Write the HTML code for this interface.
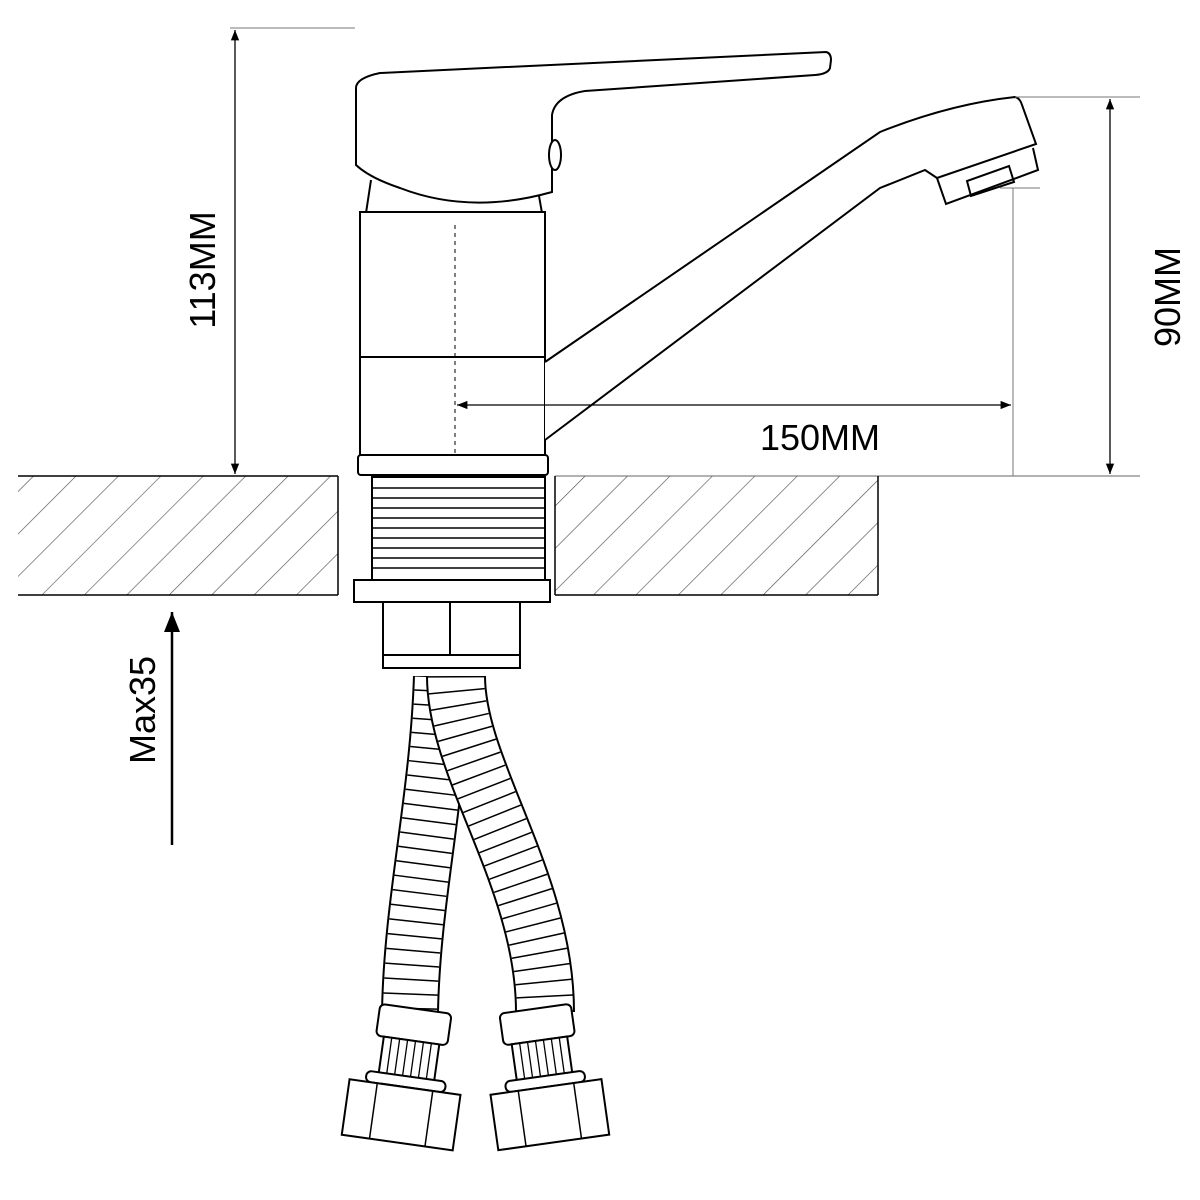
<!DOCTYPE html>
<html><head><meta charset="utf-8"><style>
html,body{margin:0;padding:0;background:#fff;}
svg{display:block;}
text{font-family:"Liberation Sans",sans-serif;}
</style></head><body>
<svg width="1200" height="1200" viewBox="0 0 1200 1200" xmlns="http://www.w3.org/2000/svg">
<defs>
<pattern id="hatch" patternUnits="userSpaceOnUse" width="30" height="30" patternTransform="rotate(45)">
<line x1="0" y1="0" x2="0" y2="30" stroke="#555" stroke-width="1.3"/>
</pattern>
<marker id="ar" viewBox="0 0 10 10" refX="10" refY="5" markerWidth="8" markerHeight="8" orient="auto-start-reverse">
<path d="M0,1 L10,5 L0,9 z" fill="#000"/>
</marker>
</defs>
<g fill="none" stroke="#000" stroke-width="2">
<!-- countertop -->
<rect x="18" y="476" width="320" height="119" fill="url(#hatch)" stroke="none"/>
<rect x="555" y="476" width="323" height="119" fill="url(#hatch)" stroke="none"/>
<line x1="18" y1="476" x2="338" y2="476" stroke-width="1.5"/>
<line x1="555" y1="476" x2="1140" y2="476" stroke-width="1" stroke="#666"/>
<line x1="18" y1="595" x2="338" y2="595" stroke-width="1.5"/>
<line x1="555" y1="595" x2="878" y2="595" stroke-width="1.5"/>
<line x1="338" y1="476" x2="338" y2="595" stroke-width="1.5"/>
<line x1="555" y1="476" x2="555" y2="595" stroke-width="1.5"/>
<line x1="878" y1="476" x2="878" y2="595" stroke-width="1.5"/>

<!-- body -->
<path d="M371,180 L366,213 M539,196 L542,213"/>
<rect x="360" y="212" width="185" height="243" fill="#fff"/>
<line x1="360" y1="357" x2="545" y2="357"/>
<line x1="455" y1="225" x2="455" y2="455" stroke-dasharray="4 4" stroke-width="1"/>
<rect x="358" y="455" width="190" height="20" rx="3" fill="#fff"/>

<!-- handle -->
<path d="M356,88 Q356,78 380,73 L826,52 Q831,53 831,60 L830,68 Q828,74 815,75 L585,91 Q555,96 552,115 L552,192 Q470,215 400,188 Q370,178 356,165 Z" fill="#fff"/>
<ellipse cx="555" cy="155" rx="6" ry="15" fill="#fff"/>

<!-- spout -->
<path d="M545,362 L880,132 Q950,104 1015,97 Q1020,98 1022,105 L1036,144 L937,178 L925,170 L880,188 L545,440" fill="#fff"/>
<path d="M937,178 L946,204 L1038,170 L1033,148"/>
<path d="M967,181 L971,196 L1014,182 L1009,166 Z"/>

<!-- threads -->
<rect x="372" y="477" width="173" height="103" fill="#fff"/>
<g stroke-width="1.5">
<line x1="372" y1="488" x2="545" y2="488"/><line x1="372" y1="498" x2="545" y2="498"/>
<line x1="372" y1="508" x2="545" y2="508"/><line x1="372" y1="518" x2="545" y2="518"/>
<line x1="372" y1="528" x2="545" y2="528"/><line x1="372" y1="538" x2="545" y2="538"/>
<line x1="372" y1="548" x2="545" y2="548"/><line x1="372" y1="558" x2="545" y2="558"/>
<line x1="372" y1="568" x2="545" y2="568"/>
</g>
<rect x="354" y="580" width="196" height="22" fill="#fff"/>
<rect x="383" y="602" width="137" height="66" fill="#fff"/>
<line x1="450" y1="602" x2="450" y2="655"/>
<line x1="383" y1="655" x2="520" y2="655"/>
</g>

<!-- hoses -->
<g fill="none">
<path d="M442,676 C438,800 412,900 410,1012" stroke="#000" stroke-width="58"/>
<path d="M442,676 C438,800 412,900 410,1012" stroke="#fff" stroke-width="54"/>
<path d="M442,676 C438,800 412,900 410,1012" stroke="#000" stroke-width="54" stroke-dasharray="1.5 13"/>
<path d="M456,676 C456,770 545,880 545,1012" stroke="#000" stroke-width="60"/>
<path d="M456,676 C456,770 545,880 545,1012" stroke="#fff" stroke-width="56"/>
<path d="M456,676 C456,770 545,880 545,1012" stroke="#000" stroke-width="56" stroke-dasharray="1.5 13"/>
<rect x="370" y="670" width="200" height="6" fill="#fff" stroke="none"/>
</g>

<g fill="#fff" stroke="#000" stroke-width="2">
<!-- left fitting -->
<g transform="rotate(8 405 1080)">
<rect x="370" y="1008" width="72" height="32" rx="5"/>
<rect x="378" y="1040" width="56" height="38"/>
<g stroke-width="1.3"><line x1="386" y1="1040" x2="386" y2="1078"/><line x1="394" y1="1040" x2="394" y2="1078"/><line x1="402" y1="1040" x2="402" y2="1078"/><line x1="410" y1="1040" x2="410" y2="1078"/><line x1="418" y1="1040" x2="418" y2="1078"/><line x1="426" y1="1040" x2="426" y2="1078"/></g>
<rect x="366" y="1076" width="80" height="11" rx="5"/>
<rect x="350" y="1087" width="112" height="56"/>
<line x1="378" y1="1087" x2="378" y2="1143" stroke-width="1.5"/><line x1="434" y1="1087" x2="434" y2="1143" stroke-width="1.5"/>
</g>
<!-- right fitting -->
<g transform="rotate(-8 545 1080)">
<rect x="509" y="1008" width="72" height="32" rx="5"/>
<rect x="517" y="1040" width="56" height="38"/>
<g stroke-width="1.3"><line x1="525" y1="1040" x2="525" y2="1078"/><line x1="533" y1="1040" x2="533" y2="1078"/><line x1="541" y1="1040" x2="541" y2="1078"/><line x1="549" y1="1040" x2="549" y2="1078"/><line x1="557" y1="1040" x2="557" y2="1078"/><line x1="565" y1="1040" x2="565" y2="1078"/></g>
<rect x="505" y="1076" width="80" height="11" rx="5"/>
<rect x="489" y="1087" width="112" height="56"/>
<line x1="517" y1="1087" x2="517" y2="1143" stroke-width="1.5"/><line x1="573" y1="1087" x2="573" y2="1143" stroke-width="1.5"/>
</g>
</g>

<!-- dimensions -->
<g stroke="#000" fill="none">
<line x1="235" y1="30" x2="235" y2="474" stroke-width="1.3" marker-start="url(#ar)" marker-end="url(#ar)"/>
<line x1="230" y1="28" x2="355" y2="28" stroke-width="1" stroke="#777"/>
<line x1="1110" y1="99" x2="1110" y2="474" stroke-width="1.3" marker-start="url(#ar)" marker-end="url(#ar)"/>
<line x1="1015" y1="97" x2="1140" y2="97" stroke-width="1" stroke="#777"/>
<line x1="1013" y1="188" x2="1013" y2="476" stroke-width="1" stroke="#777"/>
<line x1="1000" y1="188" x2="1040" y2="188" stroke-width="1" stroke="#777"/>
<line x1="457" y1="405" x2="1011" y2="405" stroke-width="1.3" marker-start="url(#ar)" marker-end="url(#ar)"/>
<line x1="172" y1="845" x2="172" y2="612" stroke-width="2.5" marker-end="url(#ar)"/>
</g>
<text x="820" y="450" font-size="36" text-anchor="middle">150MM</text>
<text transform="translate(215,270) rotate(-90)" font-size="36" text-anchor="middle">113MM</text>
<text transform="translate(1180,297) rotate(-90)" font-size="36" text-anchor="middle">90MM</text>
<text transform="translate(155,710) rotate(-90)" font-size="36" text-anchor="middle">Max35</text>
</svg>
</body></html>
